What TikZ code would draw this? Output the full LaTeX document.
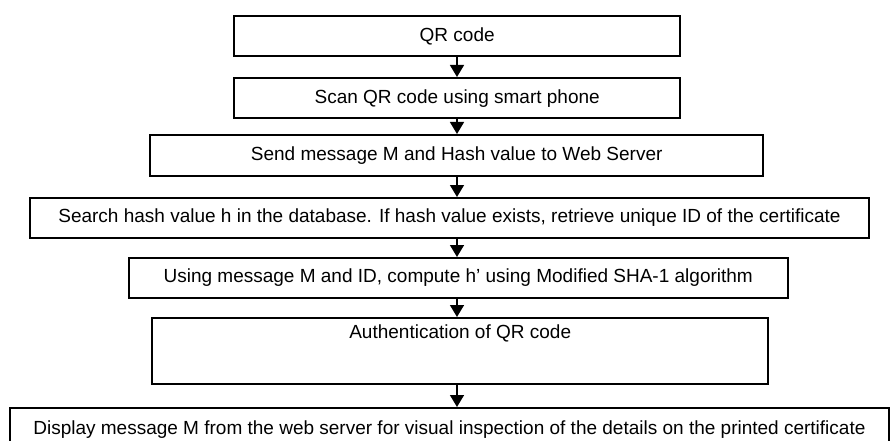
\documentclass[tikz,border=0pt]{standalone}
\usepackage{fontspec}
\setmainfont{Liberation Sans}
\usetikzlibrary{arrows.meta,calc}
\begin{document}
\begin{tikzpicture}[x=1pt,y=-1pt,
  every node/.style={font=\fontsize{19}{22}\selectfont},
  flowbox/.style={draw=black,line width=2.4pt,rectangle,inner sep=0pt,anchor=north west},
  flowarrow/.style={line width=1.5pt,-{Triangle[length=12pt,width=14pt]}}]
\useasboundingbox[fill=white] (0,0) rectangle (891,441);
\clip (0,0) rectangle (891,441);
\coordinate (ax) at (457,0);
% process steps
\node[flowbox,minimum width=446,minimum height=40] (b1) at (233,15) {QR code};
\node[flowbox,minimum width=446,minimum height=40] (b2) at (233,77) {Scan QR code using smart phone};
\node[flowbox,minimum width=613,minimum height=41] (b3) at (149,134) {Send message M and Hash value to Web Server};
\node[flowbox,line width=2pt,minimum width=839,minimum height=40] (b4) at (29,197) {Search hash value h in the database. If hash value exists, retrieve unique ID of the certificate};
\node[flowbox,line width=1.5pt,minimum width=659,minimum height=40] (b5) at (128,257) {Using message M and ID, compute h’ using Modified SHA-1 algorithm};
\node[flowbox,minimum width=616,minimum height=66] (b6) at (151,317) {};
\node (t6) at ($(b6.north)+(0,16)$) {Authentication of QR code};
\node[flowbox,line width=1.8pt,minimum width=879,minimum height=70] (b7) at (9,407) {};
\node (t7) at ($(b7.north)+(0,23)$) {Display message M from the web server for visual inspection of the details on the printed certificate};
% connectors
\draw[flowarrow] (b1.south -| ax) -- (b2.north -| ax);
\draw[flowarrow] (b2.south -| ax) -- (b3.north -| ax);
\draw[flowarrow] (b3.south -| ax) -- (b4.north -| ax);
\draw[flowarrow] (b4.south -| ax) -- (b5.north -| ax);
\draw[flowarrow] (b5.south -| ax) -- (b6.north -| ax);
\draw[flowarrow] (b6.south -| ax) -- (b7.north -| ax);
\end{tikzpicture}
\end{document}
